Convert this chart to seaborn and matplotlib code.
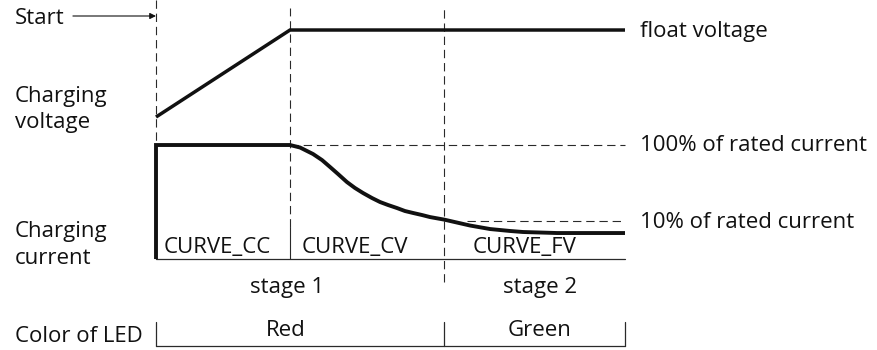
import matplotlib
matplotlib.use("Agg")
import matplotlib.pyplot as plt
import pandas as pd
import seaborn as sns

# ---- charging profile (time in arbitrary units, stage boundaries) ----
t_start, t_cv, t_fv, t_end = 0.0, 1.0, 2.15, 3.5

# charging voltage, normalised: 0 = initial battery voltage, 1 = float voltage
volt_time = [0.0, 1.0, 3.5]
volt_level = [0.0, 1.0, 1.0]

# charging current, normalised to rated current (schematic scale)
curr_time = [0.0, 0.0, 1.0, 1.075, 1.172, 1.239, 1.299, 1.358, 1.425, 1.485,
             1.545, 1.612, 1.672, 1.731, 1.799, 1.858, 1.918, 1.985, 2.045,
             2.149, 2.246, 2.343, 2.493, 2.642, 2.739, 2.993, 3.5]
curr_level = [0.0, 1.0, 1.0, 0.978, 0.921, 0.868, 0.807, 0.746, 0.675, 0.623,
              0.579, 0.535, 0.500, 0.474, 0.447, 0.421, 0.404, 0.386, 0.368,
              0.346, 0.320, 0.294, 0.263, 0.246, 0.237, 0.228, 0.228]

rated_full = 1.0     # 100% of rated current
rated_tenth = 0.336  # 10% of rated current (schematic)

curve_modes = ["CURVE_CC", "CURVE_CV", "CURVE_FV"]
stage_names = ["stage 1", "stage 2"]
led_colors = ["Red", "Green"]
right_labels = ["float voltage", "100% of rated current", "10% of rated current"]

# ---- figure setup ----
sns.set_theme(style="white")
plt.rcParams["font.family"] = ["Open Sans", "DejaVu Sans"]
plt.rcParams["lines.scale_dashes"] = False

W, H = 877, 350
fig = plt.figure(figsize=(W / 100, H / 100), dpi=100)
ax_i = fig.add_axes([0, 0, 1, 1])
ax_v = ax_i.twinx()
ax_v.set_position([0, 0, 1, 1])

x_lo, x_hi = -1.1642, 5.3806
ax_i.set_xlim(x_lo, x_hi)
ax_i.set_ylim(-0.798, 2.272)
ax_v.set_ylim(-2.678, 1.345)
for ax in (ax_i, ax_v):
    ax.axis("off")

INK = "#111111"
THIN = "#2a2a2a"
DASH = (0, (6, 3.5))
FS = 16


def fig_xy(x, y):
    """Figure-pixel position (origin top-left) to figure fraction."""
    return x / W, 1 - y / H


# ---- guides ----
ax_i.plot([t_start, t_start], [0.0, 2.272], color=THIN, lw=0.8, ls=DASH)
ax_i.plot([t_cv, t_cv], [0.28, 2.20], color=THIN, lw=0.8, ls=DASH)
ax_i.plot([t_cv, t_cv], [0.0, 0.28], color=THIN, lw=0.8)
ax_i.plot([t_fv, t_fv], [-0.20, 2.20], color=THIN, lw=0.8, ls=DASH)
ax_i.plot([t_cv, t_end], [rated_full, rated_full], color=THIN, lw=0.8, ls=DASH)
ax_i.plot([2.32, t_end], [rated_tenth, rated_tenth], color=THIN, lw=0.8, ls=DASH)
ax_i.plot([t_start, t_end], [0.0, 0.0], color=THIN, lw=0.9)

# LED colour bracket
led_bounds = [t_start, t_fv, t_end]
for b in led_bounds:
    ax_i.plot([b, b], [-0.553, -0.763], color=THIN, lw=0.9)
ax_i.plot([t_start, t_end], [-0.763, -0.763], color=THIN, lw=0.9)

# ---- curves ----
df_v = pd.DataFrame({"t": volt_time, "v": volt_level})
df_i = pd.DataFrame({"t": curr_time, "i": curr_level})
sns.lineplot(data=df_v, x="t", y="v", ax=ax_v, color=INK, lw=2.5,
             sort=False, estimator=None)
sns.lineplot(data=df_i, x="t", y="i", ax=ax_i, color=INK, lw=2.8,
             sort=False, estimator=None)
for ln in ax_i.lines[-1:] + ax_v.lines[-1:]:
    ln.set_solid_joinstyle("miter")
    ln.set_solid_capstyle("butt")
ax_i.set_xlim(x_lo, x_hi)
ax_v.set_xlim(x_lo, x_hi)
for ax in (ax_i, ax_v):
    ax.set_xlabel("")
    ax.set_ylabel("")

# ---- start arrow ----
ax_v.annotate("", xy=(t_start, fig_xy(0, 16)[1]), xytext=(-0.62, fig_xy(0, 16)[1]),
              xycoords=("data", "figure fraction"), textcoords=("data", "figure fraction"),
              arrowprops=dict(arrowstyle="-|>", lw=0.8, color=INK,
                              mutation_scale=9, shrinkA=0, shrinkB=0))

# ---- text ----
def put(s, x, y, ha="left"):
    fig.text(*fig_xy(x, y), s, ha=ha, va="baseline", fontsize=FS, color=INK)


put("Start", 15, 24)
put("Charging", 15, 102)
put("voltage", 15, 128)
put("Charging", 15, 237)
put("current", 15, 264)
put("Color of LED", 15, 342)

put(right_labels[0], 640, 37)
put(right_labels[1], 640, 151)
put(right_labels[2], 640, 228)

for s, x in zip(curve_modes, [217, 355, 525]):
    put(s, x, 253, ha="center")
for s, x in zip(stage_names, [287, 540]):
    put(s, x, 293, ha="center")
for s, x in zip(led_colors, [286, 540]):
    put(s, x, 336, ha="center")

fig.savefig("out.png", dpi=100)
